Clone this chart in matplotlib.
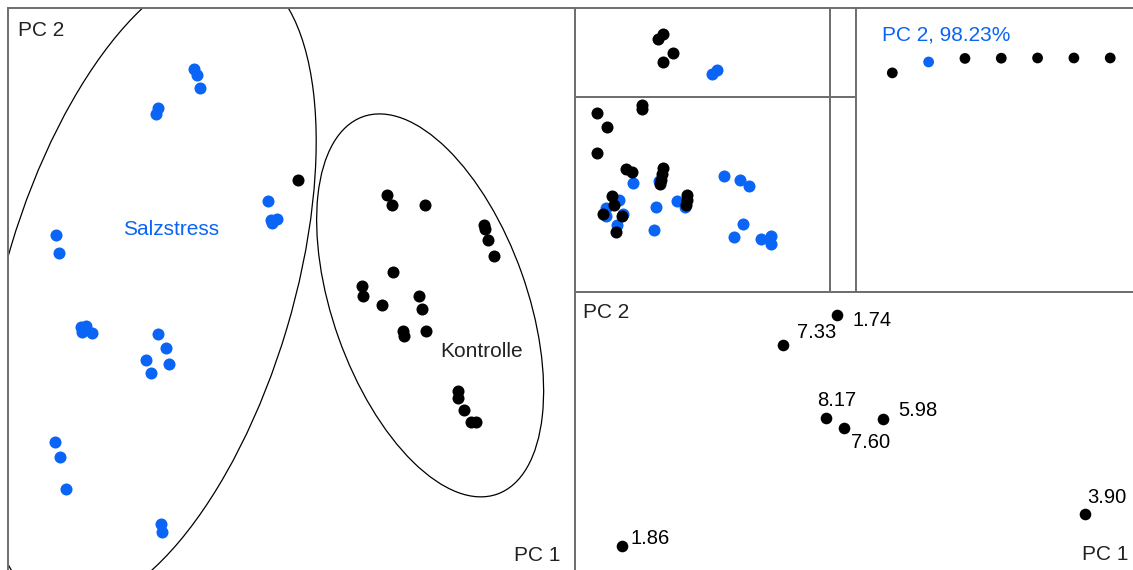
import matplotlib
matplotlib.use("Agg")
import matplotlib.pyplot as plt
from matplotlib.patches import Ellipse

plt.rcParams["font.family"] = ["Liberation Sans", "DejaVu Sans"]

BLUE = "#0a64f5"
FRAME = "#6e6e6e"
TEXT = "#222222"

# Score plot PC1 / PC2
salz_pc1 = [-3.44, -3.33, -3.23, -4.71, -4.78, -8.31, -8.20, -0.83, -0.72, -0.51,
            -0.69, -7.43, -7.25, -7.39, -7.04, -4.71, -4.43, -5.13, -4.32, -4.96,
            -8.34, -8.17, -7.95, -4.60, -4.57]
salz_pc2 = [7.85, 7.64, 7.18, 6.47, 6.26, 1.99, 1.36, 3.19, 2.52, 2.56,
            2.42, -1.25, -1.22, -1.43, -1.46, -1.50, -1.99, -2.42, -2.56, -2.87,
            -5.31, -5.84, -6.97, -8.20, -8.48]
kontr_pc1 = [0.23, 3.37, 3.54, 4.71, 6.79, 6.83, 6.93, 7.14, 3.58, 2.49, 2.52,
             3.19, 4.50, 4.60, 3.93, 3.97, 4.74, 5.87, 5.87, 6.08, 6.33, 6.51]
kontr_pc2 = [3.93, 3.40, 3.05, 3.05, 2.35, 2.20, 1.82, 1.25, 0.69, 0.19, -0.16,
             -0.48, -0.16, -0.62, -1.39, -1.57, -1.39, -3.51, -3.76, -4.18, -4.60, -4.60]

# confidence ellipses: center x, center y, width, height, angle
salz_ellipse = (-5.03, 0.14, 10.15, 23.4, -16.6)
kontr_ellipse = (4.89, -0.49, 6.85, 14.13, 19.6)

# Scatter matrix panels
mid_salz_x = [2.27, 3.29, 1.73, 1.22, 1.22, 1.88, 1.65, 3.18, 4.00, 4.31,
              5.84, 6.47, 6.82, 6.59, 6.24, 7.29, 7.69, 7.69, 3.10]
mid_salz_y = [5.59, 5.69, 4.72, 4.31, 3.90, 4.00, 3.44, 4.36, 4.67, 4.36,
              5.95, 5.74, 5.44, 3.49, 2.82, 2.72, 2.87, 2.46, 3.18]
mid_kontr_x = [0.86, 1.25, 2.63, 2.63, 0.86, 2.00, 2.24, 3.45, 3.41, 3.37,
               3.33, 4.39, 4.39, 4.35, 1.45, 1.53, 1.10, 1.84, 1.61]
mid_kontr_y = [9.18, 8.46, 9.59, 9.38, 7.13, 6.31, 6.15, 6.36, 6.05, 5.74,
               5.54, 4.97, 4.72, 4.46, 4.92, 4.46, 4.00, 3.90, 3.08]
top_kontr_x = [3.45, 3.25, 3.84, 3.45]
top_kontr_y = [7.08, 6.52, 4.94, 3.93]
top_salz_x = [5.57, 5.37]
top_salz_y = [3.03, 2.58]

# Cumulative explained variance
components = [1, 2, 3, 4, 5, 6, 7]
cum_var = [93.4, 98.23, 99.8, 99.9, 100.0, 100.0, 100.0]

# Loadings
load_pc1 = [-0.082, -0.298, -0.126, -0.054, 0.102, 0.910, -0.942]
load_pc2 = [0.474, 0.354, 0.062, 0.022, 0.058, -0.322, -0.450]
load_labels = ["1.74", "7.33", "8.17", "7.60", "5.98", "3.90", "1.86"]
load_offsets = [(15, -5), (14, 13), (-9, 17), (7, -14), (15, 8), (2, 17), (9, 8)]

W, H = 1133, 570
fig = plt.figure(figsize=(W / 100, H / 100), dpi=100)


def panel(x0, y0, x1, y1, **kw):
    ax = fig.add_axes([x0 / W, 1 - y1 / H, (x1 - x0) / W, (y1 - y0) / H], **kw)
    ax.set_xticks([])
    ax.set_yticks([])
    for s in ax.spines.values():
        s.set_color(FRAME)
        s.set_linewidth(1.4)
    return ax


# main score plot
ax = panel(8, 8, 575, 575)
ax.set_xlim(-10, 10)
ax.set_ylim(-10, 10)
for (cx, cy, w, h, a) in [salz_ellipse, kontr_ellipse]:
    ax.add_patch(Ellipse((cx, cy), w, h, angle=a, fill=False, color="black", lw=0.9))
ax.scatter(salz_pc1, salz_pc2, s=75, color=BLUE, linewidths=0, zorder=3)
ax.scatter(kontr_pc1, kontr_pc2, s=75, color="black", linewidths=0, zorder=3)
ax.text(-4.25, 2.20, "Salzstress", color=BLUE, fontsize=15, ha="center", va="center")
ax.text(6.70, -2.10, "Kontrolle", color=TEXT, fontsize=15, ha="center", va="center")
ax.text(0.018, 0.961, "PC 2", transform=ax.transAxes, color=TEXT, fontsize=15,
        ha="left", va="center")
ax.text(0.974, 0.035, "PC 1", transform=ax.transAxes, color=TEXT, fontsize=15,
        ha="right", va="center")

# scatter matrix
ax_mid = panel(575, 97, 830, 292)
ax_mid.set_xlim(0, 10)
ax_mid.set_ylim(0, 10)
ax_mid.scatter(mid_salz_x, mid_salz_y, s=75, color=BLUE, linewidths=0, zorder=3)
ax_mid.scatter(mid_kontr_x, mid_kontr_y, s=75, color="black", linewidths=0, zorder=3)

ax_top = panel(575, 8, 830, 97)
ax_top.set_xlim(0, 10)
ax_top.set_ylim(0, 10)
ax_top.scatter(top_kontr_x, top_kontr_y, s=75, color="black", linewidths=0, zorder=3)
ax_top.scatter(top_salz_x, top_salz_y, s=75, color=BLUE, linewidths=0, zorder=3)

panel(830, 8, 856, 97)
panel(830, 97, 856, 292)

# explained variance
ax_var = panel(856, 8, 1140, 292)
ax_var.set_xlim(0, 7.82)
ax_var.set_ylim(-3.5, 122.1)
colors = [BLUE if c == 2 else "black" for c in components]
ax_var.scatter(components, cum_var, s=60, c=colors, linewidths=0, zorder=3)
ax_var.text(0.092, 0.905, f"PC 2, {cum_var[1]:.2f}%", transform=ax_var.transAxes,
            color=BLUE, fontsize=15, ha="left", va="center")

# loadings
ax_load = panel(575, 292, 1140, 575)
ax_load.set_xlim(-1.13, 1.13)
ax_load.set_ylim(-0.566, 0.566)
ax_load.scatter(load_pc1, load_pc2, s=70, color="black", linewidths=0, zorder=3)
for x, y, lab, (dx, dy) in zip(load_pc1, load_pc2, load_labels, load_offsets):
    ax_load.annotate(lab, (x, y), xytext=(dx * 0.72, dy * 0.72), textcoords="offset points",
                     fontsize=14.5, color="black", ha="left", va="center")
ax_load.text(0.014, 0.929, "PC 2", transform=ax_load.transAxes, color=TEXT, fontsize=15,
             ha="left", va="center")
ax_load.text(0.979, 0.071, "PC 1", transform=ax_load.transAxes, color=TEXT, fontsize=15,
             ha="right", va="center")

fig.savefig("out.png", dpi=100, facecolor="white")
